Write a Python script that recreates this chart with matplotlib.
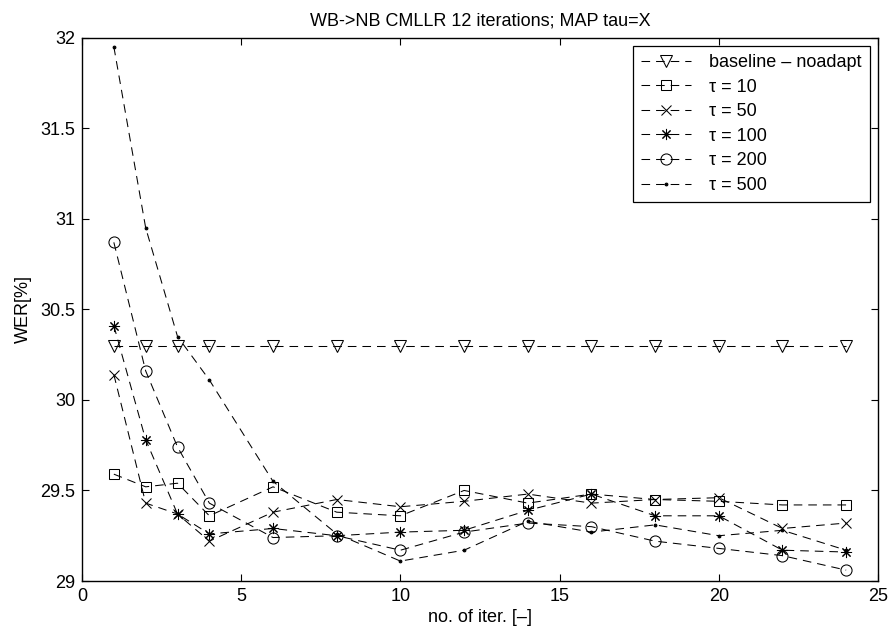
import matplotlib
matplotlib.use("Agg")
import matplotlib.pyplot as plt

plt.rcParams['font.family'] = ['Liberation Sans', 'DejaVu Sans']
plt.rcParams['lines.scale_dashes'] = False

iters = [1, 2, 3, 4, 6, 8, 10, 12, 14, 16, 18, 20, 22, 24]
baseline = [30.30] * 14
tau10 = [29.59, 29.52, 29.54, 29.36, 29.52, 29.38, 29.36, 29.50, 29.43, 29.48, 29.45, 29.44, 29.42, 29.42]
tau50 = [30.14, 29.43, 29.37, 29.22, 29.38, 29.45, 29.41, 29.44, 29.48, 29.43, 29.45, 29.46, 29.29, 29.32]
tau100 = [30.41, 29.78, 29.37, 29.26, 29.29, 29.25, 29.27, 29.28, 29.39, 29.48, 29.36, 29.36, 29.17, 29.16]
tau200 = [30.87, 30.16, 29.74, 29.43, 29.24, 29.25, 29.17, 29.27, 29.32, 29.30, 29.22, 29.18, 29.14, 29.06]
tau500 = [31.95, 30.95, 30.35, 30.11, 29.55, 29.26, 29.11, 29.17, 29.33, 29.27, 29.31, 29.25, 29.28, 29.17]

labels = ['baseline \u2013 noadapt', '\u03c4 = 10', '\u03c4 = 50', '\u03c4 = 100', '\u03c4 = 200', '\u03c4 = 500']
title = 'WB->NB CMLLR 12 iterations; MAP tau=X'
xlabel = 'no. of iter. [\u2013]'
ylabel = 'WER[%]'

fig = plt.figure(figsize=(8.91, 6.33), dpi=100)
ax = fig.add_axes([82/891, 1 - 581/633, (878-82)/891, (581-37.7)/633])

series = [baseline, tau10, tau50, tau100, tau200, tau500]
markers = ['v', 's', 'x', (8, 2, 0), 'o', '.']
msizes = [8.5, 6.8, 6.5, 8.0, 8.0, 4.0]
dash = (6.2, 4.3)
for y, m, ms, lab in zip(series, markers, msizes, labels):
    line, = ax.plot(iters, y, color='black', linewidth=0.75, marker=m, markersize=ms,
                    markerfacecolor='none' if m not in ('.',) else 'black',
                    markeredgecolor='black', markeredgewidth=0.75, label=lab)
    line.set_dashes(dash)

ax.set_xlim(0, 25)
ax.set_ylim(29, 32)
ax.set_xticks([0, 5, 10, 15, 20, 25])
ax.set_yticks([29, 29.5, 30, 30.5, 31, 31.5, 32])
ax.set_yticklabels(['29', '29.5', '30', '30.5', '31', '31.5', '32'])
ax.tick_params(direction='in', length=5, width=0.8, top=True, right=True,
               labelsize=13, pad=5)
for s in ax.spines.values():
    s.set_linewidth(1.0)

ax.set_title(title, fontsize=13, pad=9)
ax.set_xlabel(xlabel, fontsize=13, labelpad=3)
ax.set_ylabel(ylabel, fontsize=13, labelpad=6)

leg = ax.legend(loc='upper right', fontsize=13, fancybox=False, framealpha=1,
                edgecolor='black', handlelength=2.8, handletextpad=1.0,
                borderpad=0.45, labelspacing=0.42, borderaxespad=0.45)
leg.get_frame().set_linewidth(0.9)

fig.savefig('out.png', dpi=100)
